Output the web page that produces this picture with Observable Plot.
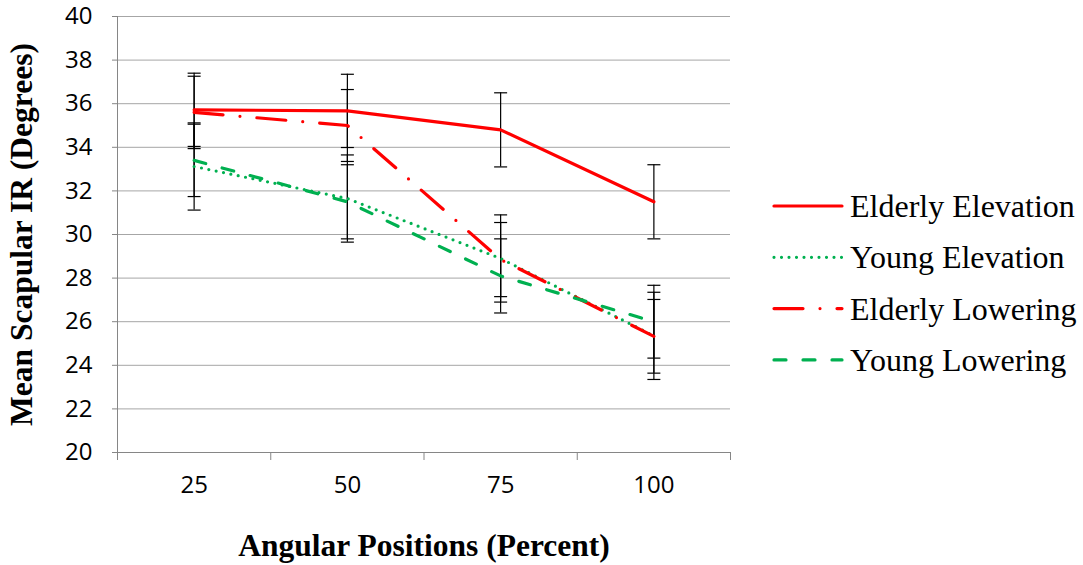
<!DOCTYPE html>
<html>
<head>
<meta charset="utf-8">
<script src="https://cdn.jsdelivr.net/npm/d3@7"></script>
<script src="https://cdn.jsdelivr.net/npm/@observablehq/plot@0.6"></script>
<style>
  body { margin: 0; background: #fff; }
  #chart { position: relative; width: 1083px; height: 565px; overflow: hidden; }
  #chart g[aria-label="y-axis label"], #chart g[aria-label="x-axis label"] {
    font-family: "Liberation Serif", "Times New Roman", serif;
    font-weight: bold;
    font-size: 31.5px;
  }
  #legend { position: absolute; left: 760px; top: 0; }
  #legend text { font-family: "Liberation Serif", "Times New Roman", serif; font-size: 32px; fill: #000; }
</style>
</head>
<body>
<div id="chart"></div>
<script>
// Angular positions (percent of range of motion)
const positions = [25, 50, 75, 100];
const yTicks = [20, 22, 24, 26, 28, 30, 32, 34, 36, 38, 40];

// Mean scapular internal rotation (degrees)
const elderlyElevation = [35.72, 35.67, 34.8, 31.5];
const youngElevation   = [33.12, 31.65, 28.9, 25.35];
const elderlyLowering  = [35.6, 35.0, 28.85, 25.33];
const youngLowering    = [33.4, 31.5, 28.1, 26.0];

// Standard deviations (error bars)
const elderlyElevationSD = [1.68, 1.68, 1.7, 1.7];
const youngElevationSD   = [2.0, 2.0, 2.0, 2.0];
const elderlyLoweringSD  = [1.66, 1.65, 1.7, 1.69];
const youngLoweringSD    = [1.66, 1.7, 1.7, 1.67];

const seriesNames = ["Elderly Elevation", "Young Elevation", "Elderly Lowering", "Young Lowering"];
const seriesValues = [elderlyElevation, youngElevation, elderlyLowering, youngLowering];
const seriesSD = [elderlyElevationSD, youngElevationSD, elderlyLoweringSD, youngLoweringSD];

const styles = {
  "Elderly Elevation": {stroke: "#ff0000", strokeDasharray: null, strokeLinecap: "round"},
  "Young Elevation":   {stroke: "#00b050", strokeDasharray: "0 7.5", strokeLinecap: "round"},
  "Elderly Lowering":  {stroke: "#ff0000", strokeDasharray: "29 17 0 17", strokeLinecap: "round"},
  "Young Lowering":    {stroke: "#00b050", strokeDasharray: "12 17", strokeLinecap: "round"}
};

const rows = seriesNames.flatMap((name, i) =>
  positions.map((p, j) => ({series: name, x: p, y: seriesValues[i][j], sd: seriesSD[i][j]}))
);

// Category boundaries, where the x-axis tick marks sit
const half = (positions[1] - positions[0]) / 2;
const boundaries = [...positions.map(p => p - half), positions[positions.length - 1] + half];

// Horizontal cap for the error bars
const capSymbol = {
  draw(context, size) {
    const w = Math.sqrt(size / Math.PI);
    context.moveTo(-w, 0);
    context.lineTo(w, 0);
  }
};

const axisColor = "#868686";

const plot = Plot.plot({
  width: 760,
  height: 565,
  marginLeft: 117,
  marginRight: 30,
  marginTop: 16,
  marginBottom: 113,
  style: {fontFamily: "'Open Sans', sans-serif", fontSize: "24px", color: "#000", background: "#fff", overflow: "visible"},
  x: {domain: [boundaries[0], boundaries[boundaries.length - 1]]},
  y: {domain: [20, 40]},
  marks: [
    Plot.gridY(yTicks.slice(1), {stroke: "#a6a6a6", strokeOpacity: 1}),
    Plot.axisY(yTicks, {
      tickSize: 5, tickPadding: 20, stroke: axisColor, fill: "#000",
      label: "Mean Scapular IR (Degrees)", labelAnchor: "center", labelArrow: "none", labelOffset: 108
    }),
    Plot.axisX(boundaries, {tickSize: 8, tickFormat: () => "", stroke: axisColor, label: null}),
    Plot.axisX(positions, {
      tickSize: 0, tickPadding: 23, fill: "#000",
      label: "Angular Positions (Percent)", labelAnchor: "center", labelArrow: "none", labelOffset: 103
    }),
    Plot.ruleX([boundaries[0]], {stroke: axisColor}),
    Plot.ruleY([20], {stroke: axisColor}),
    // error bars
    Plot.ruleX(rows, {x: "x", y1: d => d.y - d.sd, y2: d => d.y + d.sd, stroke: "#000", strokeWidth: 1.2}),
    Plot.dot(rows, {x: "x", y: d => d.y + d.sd, symbol: capSymbol, r: 6.5, stroke: "#000", strokeWidth: 1.2, fill: "none"}),
    Plot.dot(rows, {x: "x", y: d => d.y - d.sd, symbol: capSymbol, r: 6.5, stroke: "#000", strokeWidth: 1.2, fill: "none"}),
    // series lines
    ...seriesNames.map(name =>
      Plot.line(rows.filter(d => d.series === name), {
        x: "x", y: "y", strokeWidth: 3.2, ...styles[name]
      })
    )
  ]
});

const chart = document.getElementById("chart");
chart.appendChild(plot);

// Legend
const legend = d3.select(chart).append("svg")
  .attr("id", "legend")
  .attr("width", 323)
  .attr("height", 565);

seriesNames.forEach((name, i) => {
  const base = 217 + i * 51.3;
  const s = styles[name];
  legend.append("line")
    .attr("x1", 14).attr("x2", 82)
    .attr("y1", base - 11).attr("y2", base - 11)
    .attr("stroke", s.stroke)
    .attr("stroke-width", 3.2)
    .attr("stroke-linecap", s.strokeLinecap)
    .attr("stroke-dasharray", s.strokeDasharray);
  legend.append("text")
    .attr("x", 90)
    .attr("y", base)
    .text(name);
});
</script>
</body>
</html>
